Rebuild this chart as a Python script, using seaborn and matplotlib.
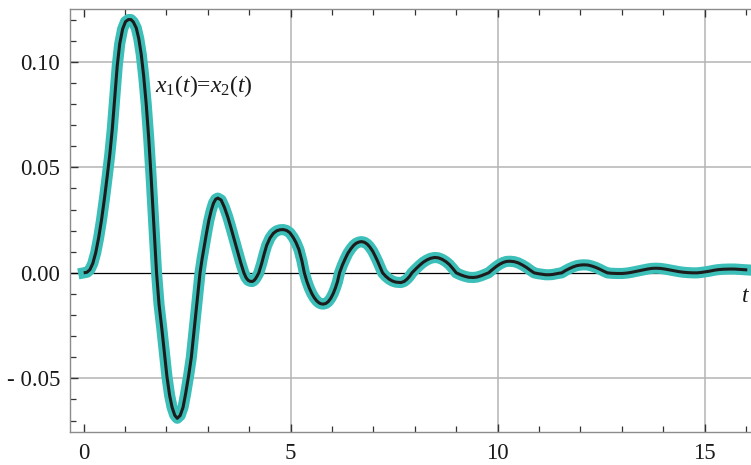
import numpy as np
import pandas as pd
import matplotlib
matplotlib.use('Agg')
import matplotlib.pyplot as plt
from matplotlib.ticker import MultipleLocator
import seaborn as sns

# values (t, x1(t) = x2(t))
t_vals = [0.00, 0.08, 0.15, 0.22, 0.29, 0.36, 0.43, 0.50, 0.57, 0.63, 0.69, 0.75, 0.81, 0.87, 0.94,
          1.01, 1.08, 1.14, 1.20, 1.27, 1.33, 1.39, 1.45, 1.51, 1.57, 1.63, 1.70, 1.76,
          1.82, 1.885, 1.95, 2.01, 2.075, 2.135, 2.20, 2.26,
          2.33, 2.40, 2.46, 2.535, 2.60, 2.67, 2.74, 2.81,
          2.86, 2.92, 2.97, 3.025, 3.08, 3.135, 3.19, 3.24,
          3.32, 3.40, 3.48, 3.555, 3.63, 3.71, 3.79, 3.87,
          3.92, 3.97, 4.02, 4.07, 4.11, 4.15, 4.19, 4.23,
          4.30, 4.36, 4.42, 4.50, 4.58, 4.66, 4.74, 4.82, 4.90, 4.98, 5.06, 5.13, 5.20, 5.27, 5.33,
          5.39, 5.45, 5.51, 5.57, 5.63, 5.69, 5.74, 5.79, 5.85, 5.91, 5.97, 6.03, 6.08, 6.13, 6.18,
          6.25, 6.32, 6.38, 6.45, 6.52, 6.58, 6.65, 6.71, 6.78, 6.85, 6.91, 6.98, 7.04, 7.10, 7.16, 7.22,
          7.30, 7.38, 7.46, 7.54, 7.66, 7.74, 7.81, 7.87, 7.93,
          8.02, 8.11, 8.20, 8.29, 8.38, 8.48, 8.57, 8.66, 8.75, 8.83, 8.91, 9.00,
          9.10, 9.20, 9.30, 9.41, 9.50, 9.60, 9.69, 9.78,
          9.87, 9.96, 10.04, 10.13, 10.21, 10.30, 10.40, 10.50, 10.60, 10.70, 10.79, 10.88,
          10.98, 11.08, 11.16, 11.24, 11.32, 11.40, 11.48, 11.55,
          11.64, 11.73, 11.82, 11.91, 12.00, 12.08, 12.18, 12.28, 12.38, 12.47, 12.56, 12.65,
          12.75, 12.88, 13.01, 13.12, 13.22,
          13.32, 13.42, 13.52, 13.62, 13.72, 13.82, 13.93, 14.04, 14.15, 14.26, 14.37, 14.48,
          14.60, 14.72, 14.82, 14.92, 15.02,
          15.12, 15.22, 15.32, 15.44, 15.59, 15.72, 15.86, 16.03]
x_vals = [0.0, 0.0003, 0.0015, 0.0045, 0.0095, 0.0165, 0.025, 0.035, 0.046, 0.056, 0.068, 0.083, 0.098, 0.1085, 0.1155,
          0.119, 0.1200, 0.1200, 0.1188, 0.116, 0.111, 0.1035, 0.093, 0.080, 0.064, 0.045, 0.021, 0.0,
          -0.015, -0.026, -0.038, -0.049, -0.058, -0.0637, -0.0675, -0.0689,
          -0.0676, -0.0637, -0.0575, -0.0487, -0.040, -0.0265, -0.0135, 0.0,
          0.0066, 0.0136, 0.0192, 0.025, 0.0295, 0.033, 0.0349, 0.0354,
          0.0345, 0.031, 0.0265, 0.0215, 0.0162, 0.0105, 0.005, 0.0,
          -0.0022, -0.0035, -0.0040, -0.0041, -0.0037, -0.0028, -0.0015, 0.0,
          0.0045, 0.009, 0.013, 0.0165, 0.0187, 0.0199, 0.0204, 0.0205, 0.0201, 0.019, 0.0168, 0.0143, 0.011, 0.0058, 0.0,
          -0.004, -0.0072, -0.0098, -0.0118, -0.0133, -0.0143, -0.0147, -0.0148, -0.0145, -0.0136, -0.012, -0.0097, -0.0072, -0.0042, 0.0,
          0.0037, 0.0068, 0.0092, 0.0113, 0.0130, 0.0140, 0.0146, 0.0148, 0.0145, 0.0136, 0.0123, 0.0103, 0.0080, 0.0055, 0.0028, 0.0,
          -0.0017, -0.003, -0.0039, -0.0044, -0.0046, -0.0041, -0.003, -0.0017, 0.0,
          0.0018, 0.0035, 0.0050, 0.0061, 0.0069, 0.0073, 0.0071, 0.0064, 0.0053, 0.0040, 0.0022, 0.0,
          -0.0009, -0.0016, -0.0021, -0.0022, -0.002, -0.0014, -0.0007, 0.0,
          0.0015, 0.0029, 0.0040, 0.0049, 0.0054, 0.0055, 0.0053, 0.0047, 0.0037, 0.0025, 0.0012, 0.0,
          -0.0004, -0.0007, -0.0009, -0.0009, -0.0008, -0.0005, -0.0002, 0.0,
          0.0011, 0.0020, 0.0028, 0.0034, 0.0037, 0.0038, 0.0037, 0.0032, 0.0025, 0.0017, 0.0008, 0.0,
          -0.0002, -0.0003, -0.0003, -0.0001, 0.0002,
          0.0006, 0.0010, 0.0014, 0.0018, 0.0021, 0.0022, 0.0021, 0.0018, 0.0014, 0.0010, 0.0006, 0.0003,
          0.0001, 0.0, 0.0, 0.0002, 0.0005,
          0.0008, 0.0012, 0.0015, 0.0017, 0.0018, 0.0018, 0.0016, 0.0014]

x_ticks = [0, 5, 10, 15]
x_tick_labels = ['0', '5', '10', '15']
y_ticks = [-0.05, 0.0, 0.05, 0.10]
y_tick_labels = ['- 0.05', '0.00', '0.05', '0.10']

df = pd.DataFrame({'t': t_vals, 'x': x_vals})

sns.set_style('white')
plt.rcParams['font.family'] = ['Liberation Serif', 'DejaVu Serif']
plt.rcParams['mathtext.fontset'] = 'custom'
plt.rcParams['mathtext.rm'] = 'Liberation Serif'
plt.rcParams['mathtext.it'] = 'Liberation Serif:italic'

fig = plt.figure(figsize=(7.51, 4.65), dpi=100)
ax = fig.add_axes([70 / 751, 1 - 432 / 465, 681 / 751, 423 / 465])

# grid and the zero line
for xv in [5, 10, 15]:
    ax.axvline(xv, color='#b4b4b4', lw=1.1, zorder=0)
for yv in [-0.05, 0.05, 0.10]:
    ax.axhline(yv, color='#b4b4b4', lw=1.1, zorder=0)
ax.axhline(0, color='black', lw=0.9, zorder=1)

# thick teal curve with the thin dark curve on top
sns.lineplot(data=df, x='t', y='x', sort=False, estimator=None, color='#3cbfb8',
             linewidth=8, solid_capstyle='projecting', solid_joinstyle='round', ax=ax, zorder=2)
sns.lineplot(data=df, x='t', y='x', sort=False, estimator=None, color='#1c1c1c',
             linewidth=2.2, solid_capstyle='butt', solid_joinstyle='round', ax=ax, zorder=3)

ax.set_xlim(-0.331, 16.12)
ax.set_ylim(-0.0754, 0.1250)

ax.set_xticks(x_ticks)
ax.set_xticklabels(x_tick_labels)
ax.set_yticks(y_ticks)
ax.set_yticklabels(y_tick_labels)
ax.xaxis.set_minor_locator(MultipleLocator(1))
ax.yaxis.set_minor_locator(MultipleLocator(0.01))
ax.tick_params(which='both', direction='in', colors='#333333', labelcolor='#1a1a1a',
               top=True, bottom=True, left=True, right=False, labelsize=16.5)
ax.tick_params(which='major', length=6, width=1.0)
ax.tick_params(which='minor', length=4, width=0.9)
ax.tick_params(axis='x', pad=8)
ax.tick_params(axis='y', pad=7)

for side in ['left', 'bottom', 'top']:
    ax.spines[side].set_color('#8c8c8c')
    ax.spines[side].set_linewidth(1.0)
ax.spines['right'].set_visible(False)

ax.set_xlabel('')
ax.set_ylabel('')

ax.text(1.72, 0.0886, r'$x_1(t)$=$x_2(t)$', fontsize=17, va='center', ha='left', color='#1a1a1a')
ax.text(15.98, -0.0112, r'$t$', fontsize=17, va='center', ha='center', color='#1a1a1a')

plt.savefig('out.png', dpi=100)
